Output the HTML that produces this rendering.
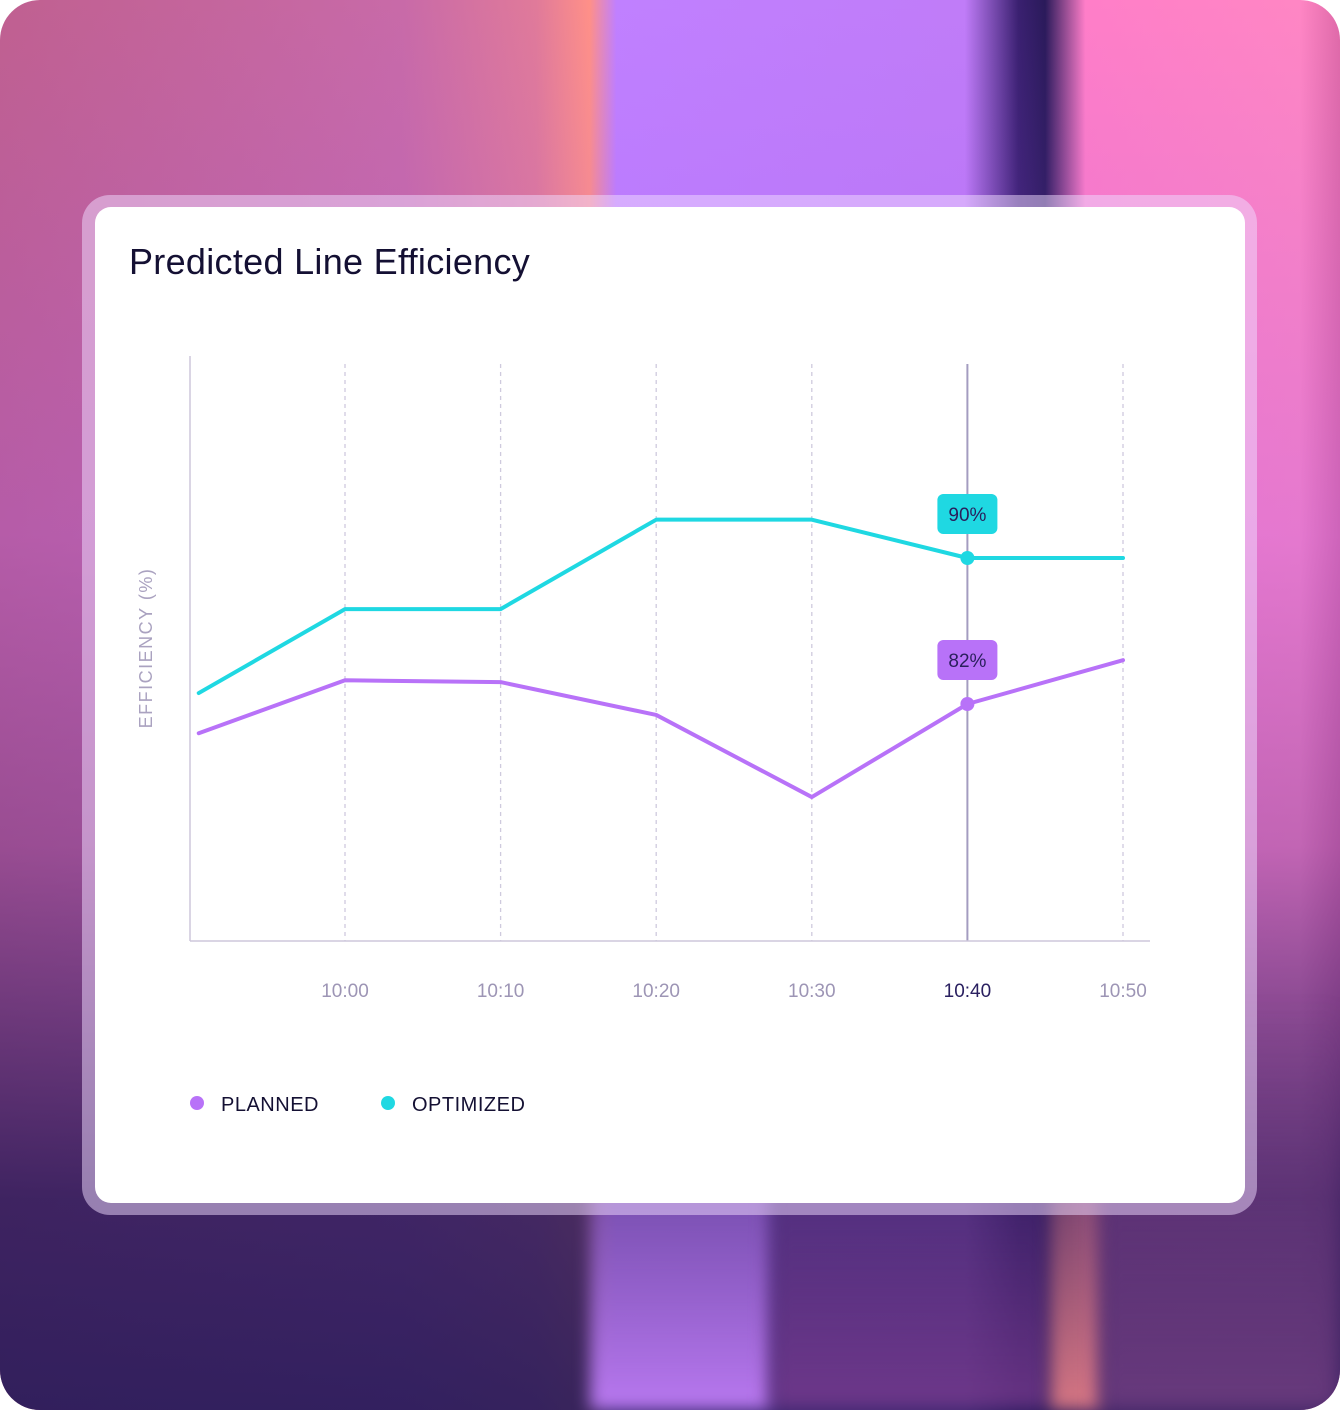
<!DOCTYPE html>
<html><head><meta charset="utf-8">
<style>
html,body{margin:0;padding:0;}
body{width:1340px;height:1410px;position:relative;overflow:hidden;font-family:"Liberation Sans",sans-serif;background:#fff;}
#bg{position:absolute;left:0;top:0;width:1340px;height:1410px;border-radius:40px;overflow:hidden;
background:linear-gradient(90deg,#c06090 0%,#c86aa8 30%,#e07a9a 40%,#ff9088 44%,#c080ff 46%,#c07cf8 72%,#3a2070 76%,#2a1a5a 78%,#ff7ec8 81%,#ff86c4 97%,#e06aa8 100%);}
#shade{position:absolute;inset:0;background:linear-gradient(180deg,rgba(40,20,90,0) 0%,rgba(150,80,240,0.25) 38%,rgba(80,40,150,0.35) 60%,rgba(30,20,85,0.8) 85%,rgba(30,22,85,0.88) 100%);}
#stripe1{position:absolute;left:590px;top:1000px;width:180px;height:410px;background:linear-gradient(180deg,rgba(200,130,255,0),rgba(200,130,255,0.9));filter:blur(8px);}
#stripe3{position:absolute;left:770px;top:1050px;width:280px;height:360px;background:linear-gradient(180deg,rgba(170,80,170,0),rgba(150,70,160,0.6));filter:blur(10px);}
#stripe2{position:absolute;left:1050px;top:1050px;width:50px;height:360px;background:linear-gradient(180deg,rgba(255,140,140,0),rgba(255,140,140,0.8));filter:blur(8px);}
#stripe4{position:absolute;left:1100px;top:1000px;width:240px;height:410px;background:linear-gradient(180deg,rgba(200,100,170,0),rgba(150,80,150,0.5));filter:blur(10px);}
#frame{position:absolute;left:82px;top:195px;width:1175px;height:1020px;border-radius:28px;background:rgba(240,220,255,0.5);}
#card{position:absolute;left:95px;top:207px;width:1150px;height:996px;border-radius:16px;background:#fff;}
#title{position:absolute;left:129px;top:241px;font-size:36px;color:#141033;margin:0;font-weight:normal;letter-spacing:0.3px;}
svg{position:absolute;left:0;top:0;}
</style></head><body>
<div id="bg"><div id="shade"></div><div id="stripe1"></div><div id="stripe3"></div><div id="stripe2"></div><div id="stripe4"></div></div>
<div id="frame"></div>
<div id="card"></div>
<h1 id="title">Predicted Line Efficiency</h1>
<svg id="chart" width="1340" height="1410"></svg>
<script>
const xMinutes = [-9.4, 0, 10, 20, 30, 40, 50];
const tickMinutes = [0, 10, 20, 30, 40, 50];
const tickLabels = ["10:00", "10:10", "10:20", "10:30", "10:40", "10:50"];
const optimized = [82.6, 87.2, 87.2, 92.1, 92.1, 90, 90];
const planned = [80.4, 83.3, 83.2, 81.4, 76.9, 82, 84.4];
const highlightIndex = 5;

const NS = "http://www.w3.org/2000/svg";
const svg = document.getElementById("chart");
const xs = m => 345 + m * 15.56;
const ys = v => 558 - (v - 90) * 18.25;
function el(tag, attrs, parent) {
  const e = document.createElementNS(NS, tag);
  for (const k in attrs) e.setAttribute(k, attrs[k]);
  (parent || svg).appendChild(e);
  return e;
}
tickMinutes.forEach((m, i) => {
  const hl = i === highlightIndex - 1;
  const g = el("line", {x1: xs(m), x2: xs(m), y1: 364, y2: 941, stroke: hl ? "#a49cc0" : "#cfcade", "stroke-width": hl ? 2 : 1.3, "stroke-dasharray": hl ? "" : "4 4"});
  
  
  const t = el("text", {x: xs(m), y: 997, "text-anchor": "middle", "font-size": 19, fill: hl ? "#2a2060" : "#9d95b5", "font-family": "Liberation Sans, sans-serif"});
  t.textContent = tickLabels[i];
  
  
});
const ya = el("line", {x1: 190, x2: 190, y1: 356, y2: 941, stroke: "#cdc7db", "stroke-width": 1.5});


const xa = el("line", {x1: 190, x2: 1150, y1: 941, y2: 941, stroke: "#cdc7db", "stroke-width": 1.5});


const yt = el("text", {x: 0, y: 0, transform: "translate(152,648) rotate(-90)", "text-anchor": "middle", "font-size": 18, fill: "#aaa2c0", "letter-spacing": "1.5", "font-family": "Liberation Sans, sans-serif"});
yt.textContent = "EFFICIENCY (%)";


function series(vals, color, name) {
  const pts = vals.map((v, i) => xs(xMinutes[i]) + "," + ys(v)).join(" ");
  const p = el("polyline", {points: pts, fill: "none", stroke: color, "stroke-width": 4, "stroke-linejoin": "round", "stroke-linecap": "round"});
  
  
  const cx = xs(xMinutes[highlightIndex]), cy = ys(vals[highlightIndex]);
  const c = el("circle", {cx: cx, cy: cy, r: 7, fill: color});
  
  
  const r = el("rect", {x: cx - 30, y: cy - 64, width: 60, height: 40, rx: 6, fill: color});
  
  
  const t = el("text", {x: cx, y: cy - 37, "text-anchor": "middle", "font-size": 19, fill: "#2a1f5c", "font-family": "Liberation Sans, sans-serif"});
  t.textContent = Math.round(vals[highlightIndex]) + "%";
  
  
}
series(optimized, "#1fd8e2", "optimized");
series(planned, "#b872f8", "planned");
[["PLANNED", "#b872f8", 197], ["OPTIMIZED", "#1fd8e2", 388]].forEach(([lab, col, x]) => {
  const d = el("circle", {cx: x, cy: 1103, r: 7, fill: col});
  
  
  const t = el("text", {x: x + 24, y: 1111, "font-size": 20, fill: "#141033", "letter-spacing": "0.5", "font-family": "Liberation Sans, sans-serif"});
  t.textContent = lab;
  
  
});
</script>
</body></html>
